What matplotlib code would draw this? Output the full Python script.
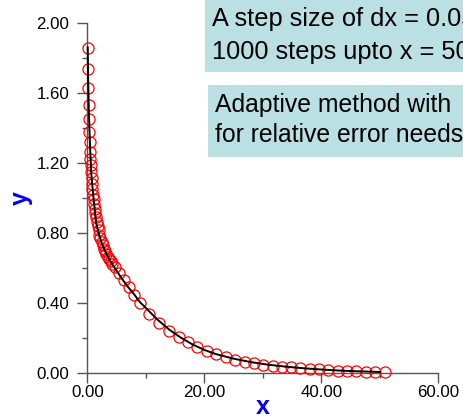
import matplotlib.pyplot as plt
from matplotlib.patches import Rectangle

# exakte Loesung (schwarze Linie)
x_line = [0.07, 0.15, 0.25, 0.35, 0.5, 0.7, 1.0, 1.5, 2.0, 2.5, 3.0, 4.0, 5.0, 6.0,
          7.0, 8.0, 9.0, 10.0, 12.0, 14.0, 16.0, 18.0, 20.0, 22.0, 25.0, 28.0, 31.0,
          34.0, 37.0, 40.0, 43.0, 46.0, 50.0]
y_line = [1.86, 1.68, 1.52, 1.41, 1.27, 1.13, 1.02, 0.86, 0.79, 0.74, 0.70, 0.635, 0.585,
          0.535, 0.49, 0.45, 0.405, 0.372, 0.305, 0.248, 0.202, 0.163, 0.132, 0.108,
          0.082, 0.062, 0.047, 0.036, 0.027, 0.020, 0.014, 0.010, 0.006]

# adaptive Schritte (rote Kreise)
x_adapt = [0.07, 0.12, 0.17, 0.23, 0.29, 0.34, 0.40, 0.46, 0.52, 0.58, 0.65, 0.72, 0.80,
           0.88, 0.97, 1.06, 1.16, 1.27, 1.38, 1.50, 1.63, 1.77, 1.92, 2.08, 2.25, 2.43,
           2.62, 2.82, 3.03, 3.25, 3.48, 3.72, 3.97, 4.23, 4.73, 5.47, 6.25, 7.1, 8.0,
           9.0, 10.6, 12.3, 14.0, 15.6, 17.2, 18.8, 20.4, 22.0, 23.7, 25.2, 27.0, 28.5,
           30.1, 31.7, 33.2, 34.8, 36.4, 38.0, 39.6, 41.2, 42.8, 44.4, 46.0, 47.6, 49.2,
           50.9]
y_adapt = [1.86, 1.74, 1.63, 1.53, 1.45, 1.38, 1.32, 1.265, 1.225, 1.19, 1.15, 1.115, 1.08,
           1.05, 1.02, 0.995, 0.965, 0.94, 0.915, 0.89, 0.865, 0.84, 0.815, 0.79, 0.77,
           0.75, 0.73, 0.71, 0.695, 0.68, 0.665, 0.65, 0.638, 0.625, 0.605, 0.57, 0.53,
           0.49, 0.445, 0.40, 0.337, 0.288, 0.24, 0.208, 0.179, 0.150, 0.128, 0.107,
           0.090, 0.076, 0.065, 0.055, 0.047, 0.042, 0.036, 0.032, 0.029, 0.025, 0.021,
           0.017, 0.013, 0.011, 0.009, 0.008, 0.008, 0.006]

x_ticks = [0, 20, 40, 60]
x_minor = [10, 30, 50]
y_ticks = [0.0, 0.4, 0.8, 1.2, 1.6, 2.0]
y_minor = [0.2, 0.6, 1.0, 1.4, 1.8]

box_lines_1 = ['A step size of dx = 0.05', '1000 steps upto x = 50']
box_lines_2 = ['Adaptive method with', 'for relative error needs']

plt.rcParams['font.family'] = ['Liberation Sans', 'DejaVu Sans']

W, H = 463, 417
fig = plt.figure(figsize=(W / 100, H / 100), dpi=100)
ax = fig.add_axes([87.3 / W, (H - 373) / H, 351 / W, 350 / H])

ax.plot(x_adapt, y_adapt, linestyle='none', marker='o', markersize=8.0,
        markerfacecolor='none', markeredgecolor='red', markeredgewidth=0.9,
        clip_on=False, zorder=3)
ax.plot(x_line, y_line, color='black', linewidth=1.4, clip_on=False, zorder=4)

ax.set_xlim(0, 60)
ax.set_ylim(0, 2)
ax.set_xticks(x_ticks)
ax.set_xticks(x_minor, minor=True)
ax.set_yticks(y_ticks)
ax.set_yticks(y_minor, minor=True)
ax.set_xticklabels(['%.2f' % v for v in x_ticks])
ax.set_yticklabels(['%.2f' % v for v in y_ticks])

for s in ['top', 'right']:
    ax.spines[s].set_visible(False)
for s in ['left', 'bottom']:
    ax.spines[s].set_color('#555555')
    ax.spines[s].set_linewidth(1.0)

ax.tick_params(which='major', direction='out', length=7.5, width=1.0,
               color='#555555', labelsize=12.2, labelcolor='black')
ax.tick_params(which='minor', direction='out', length=3.8, width=1.0, color='#555555')
ax.tick_params(axis='x', which='major', pad=1.0)
ax.tick_params(axis='y', which='major', pad=5.5)

# Achsenbeschriftungen
fig.text(262.3 / W, 1 - 407 / H, 'x', color='#0000ff', fontsize=18, fontweight='bold',
         ha='center', va='center')
fig.text(21 / W, 1 - 198 / H, 'y', color='#0000ff', fontsize=18, fontweight='bold',
         ha='center', va='center', rotation=90)

# Textkaesten
box_col = '#bbe0e3'
fig.patches.append(Rectangle((205 / W, 1 - 71.7 / H), 1.0, 1.0, transform=fig.transFigure,
                             facecolor=box_col, edgecolor='none', zorder=0))
fig.patches.append(Rectangle((208.3 / W, 1 - 156.7 / H), 1.0, (156.7 - 85) / H,
                             transform=fig.transFigure, facecolor=box_col,
                             edgecolor='none', zorder=0))
for txt, base in zip(box_lines_1, [26, 59]):
    fig.text(212 / W, 1 - base / H, txt, fontsize=18.3, va='baseline', ha='left')
for txt, base in zip(box_lines_2, [111.7, 141.7]):
    fig.text(215 / W, 1 - base / H, txt, fontsize=17.8, va='baseline', ha='left')

fig.savefig('out.png', dpi=100)
